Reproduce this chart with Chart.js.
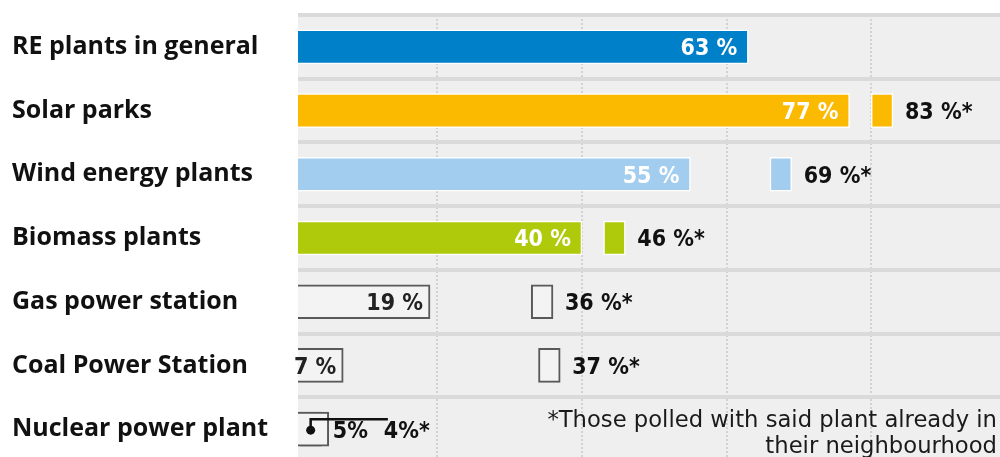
<!DOCTYPE html>
<html>
<head>
<meta charset="utf-8">
<script src="https://cdn.jsdelivr.net/npm/chart.js@4.4.1/dist/chart.umd.min.js"></script>
<style>
  html, body { margin: 0; padding: 0; background: #ffffff; overflow: hidden; }
  #wrap { position: relative; width: 1000px; height: 476px; }
  #note {
    position: absolute; right: 3px; top: 406px;
    font-family: "DejaVu Sans", sans-serif;
    font-size: 22.7px; line-height: 26px; color: #1a1a1a; text-align: right;
    white-space: nowrap;
  }
</style>
</head>
<body>
<div id="wrap">
  <canvas id="c" width="1000" height="476"></canvas>
  <div id="note">*Those polled with said plant already in<br>their neighbourhood</div>
</div>
<script>
// ---- data ----
const categories = ["RE plants in general", "Solar parks", "Wind energy plants", "Biomass plants", "Gas power station", "Coal Power Station", "Nuclear power plant"];
const overallValues = [63, 77, 55, 40, 19, 7, 5];
const neighbourValues = [null, 83, 69, 46, 36, 37, 4];
const overallText = ["63 %", "77 %", "55 %", "40 %", "19 %", "7 %", "5%"];
const neighbourText = [null, "83 %*", "69 %*", "46 %*", "36 %*", "37 %*", "4%*"];
const gridTicks = [20, 40, 60, 80];

// ---- styles ----
const fillColors = ["#0080c9", "#fbb900", "#a3cdee", "#afca0b", "#f3f3f3", "#f3f3f3", "#f3f3f3"];
const openRow = [false, false, false, false, true, true, true];
const borderColors = openRow.map(o => o ? "#595959" : "#ffffff");
const borderWidths = openRow.map(o => o ? 2 : 1.5);
const markerWidth = 3; // width of the small marker bars in percentage points
const labelFont = '"DejaVu Sans Condensed", "DejaVu Sans", sans-serif';

const bgPlugin = {
  id: "bg",
  beforeDraw(chart) {
    const { ctx, chartArea: a } = chart;
    ctx.save();
    ctx.fillStyle = "#efefef";
    ctx.fillRect(a.left, a.top, a.right - a.left, a.bottom - a.top);
    ctx.restore();
  }
};

const labelPlugin = {
  id: "labels",
  afterDatasetsDraw(chart) {
    const { ctx } = chart;
    const main = chart.getDatasetMeta(0).data;
    const sec = chart.getDatasetMeta(1).data;
    const fs = 23;
    ctx.save();
    ctx.font = "bold " + fs + "px " + labelFont;
    ctx.textBaseline = "alphabetic";
    const capOff = fs * 0.365;
    let fiveEnd = null;
    main.forEach((bar, i) => {
      const t = overallText[i];
      const y = bar.y + capOff;
      if (i === categories.length - 1) {
        ctx.fillStyle = "#111111";
        ctx.textAlign = "left";
        ctx.fillText(t, bar.x + 4, y);
        fiveEnd = bar.x + 4 + ctx.measureText(t).width;
      } else if (openRow[i]) {
        ctx.fillStyle = "#222222";
        ctx.textAlign = "right";
        ctx.fillText(t, bar.x - 7, y);
      } else {
        ctx.fillStyle = "#ffffff";
        ctx.textAlign = "right";
        ctx.fillText(t, bar.x - 11, y);
      }
    });
    sec.forEach((bar, i) => {
      const t = neighbourText[i];
      if (!t) return;
      const y = bar.y + capOff;
      ctx.fillStyle = "#111111";
      ctx.textAlign = "left";
      if (i === categories.length - 1) {
        const lx = fiveEnd + 16;
        ctx.fillText(t, lx, y);
        // leader line from marker to label
        const cx = (bar.x + bar.base) / 2;
        const lineY = bar.y - bar.height / 2 + 7;
        ctx.strokeStyle = "#111111";
        ctx.lineWidth = 2.5;
        ctx.beginPath();
        ctx.moveTo(cx, bar.y + 1);
        ctx.lineTo(cx, lineY);
        ctx.lineTo(lx + 4, lineY);
        ctx.stroke();
        ctx.fillStyle = "#111111";
        ctx.beginPath();
        ctx.arc(cx, bar.y + 1, 4.5, 0, Math.PI * 2);
        ctx.fill();
      } else {
        ctx.fillText(t, bar.x + 12, y);
      }
    });
    ctx.restore();
  }
};

new Chart(document.getElementById("c"), {
  type: "bar",
  data: {
    labels: categories,
    datasets: [
      {
        label: "All respondents",
        data: overallValues,
        backgroundColor: fillColors,
        borderColor: borderColors,
        borderWidth: borderWidths,
        borderSkipped: false,
        barThickness: 34,
        grouped: false
      },
      {
        label: "Plant already in neighbourhood",
        data: neighbourValues.map(v => v === null ? null : [v - markerWidth, v]),
        backgroundColor: fillColors,
        borderColor: borderColors,
        borderWidth: borderWidths,
        borderSkipped: false,
        barThickness: 34,
        grouped: false
      }
    ]
  },
  plugins: [bgPlugin, labelPlugin],
  options: {
    indexAxis: "y",
    responsive: false,
    animation: false,
    layout: { padding: { left: 12, top: 11, right: 0, bottom: 0 } },
    plugins: { legend: { display: false }, tooltip: { enabled: false } },
    scales: {
      x: {
        min: 0.75,
        max: 97.8,
        afterBuildTicks(scale) { scale.ticks = gridTicks.map(v => ({ value: v })); },
        afterFit(scale) { scale.height = 0; },
        ticks: { display: false },
        border: { display: false, dash: [2, 2] },
        grid: { color: "#d2d2d2", lineWidth: 2, drawTicks: false }
      },
      y: {
        afterFit(scale) { scale.width = 286; },
        border: { display: false },
        grid: { offset: true, color: "#dadada", lineWidth: 4, drawTicks: false },
        ticks: {
          crossAlign: "far",
          color: "#111111",
          padding: 0,
          font: { family: '"Open Sans", "Noto Sans", sans-serif', weight: "bold", size: 25 }
        }
      }
    }
  }
});
</script>
</body>
</html>
